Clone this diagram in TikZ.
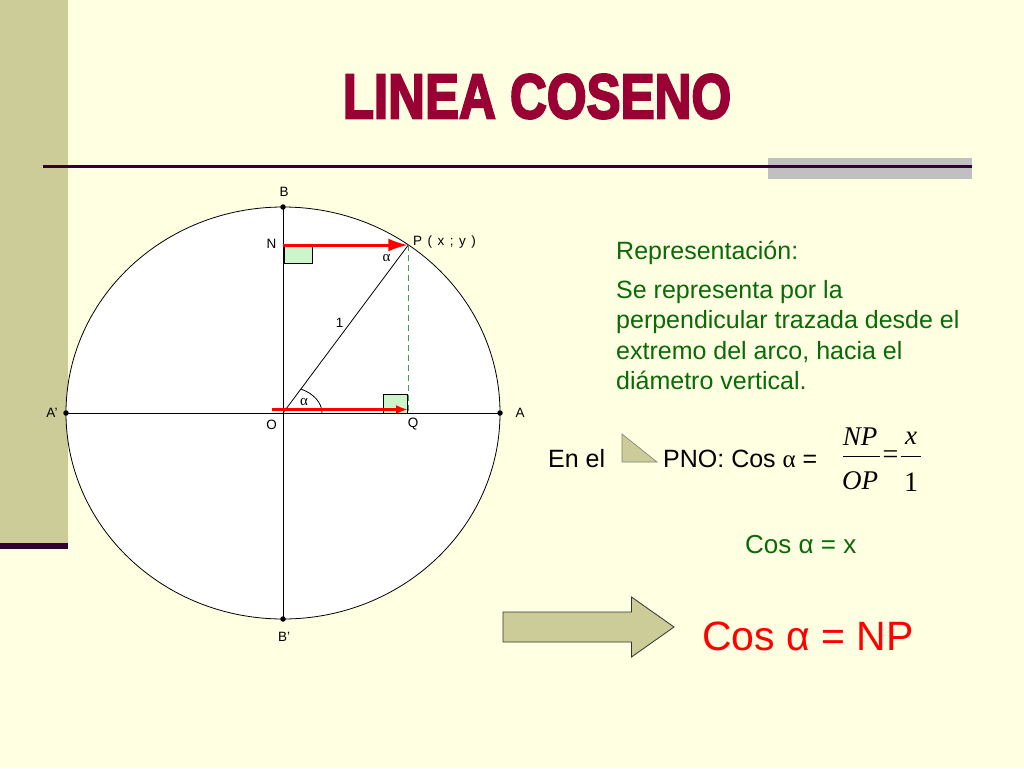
\documentclass[tikz,border=0pt]{standalone}
\usepackage{fontspec}
\setmainfont{Liberation Sans}
\newfontfamily\seriffont{Liberation Serif}
\newfontfamily\titlefont{Liberation Sans}[FakeBold=3.5]
\usetikzlibrary{arrows.meta}
\definecolor{bg}{HTML}{FFFFE1}
\definecolor{olivebar}{HTML}{CCCC99}
\definecolor{darkpurple}{HTML}{330033}
\definecolor{rulegray}{HTML}{C0C0C0}
\definecolor{titlered}{HTML}{990033}
\definecolor{txtgreen}{HTML}{0A6A0A}
\definecolor{sqgreen}{HTML}{CCF5CC}
\definecolor{dashgreen}{HTML}{3C9A5A}
\definecolor{arrowedge}{HTML}{333333}
\tikzset{
  lbl/.style={font=\fontsize{13.5}{13.5}\selectfont, inner sep=0pt},
  greek/.style={font=\seriffont\fontsize{15}{15}\selectfont, inner sep=0pt},
  gtext/.style={font=\fontsize{25}{30}\selectfont, text=txtgreen, inner sep=0pt, anchor=base west},
  btext/.style={font=\fontsize{25}{30}\selectfont, inner sep=0pt, anchor=base west},
  frac/.style={font=\seriffont\itshape\fontsize{27}{27}\selectfont, inner sep=0pt},
  fracup/.style={font=\seriffont\fontsize{28}{28}\selectfont, inner sep=0pt},
  dot/.style={circle, fill=black, inner sep=0pt, minimum size=5.5pt},
  rangle/.style={draw=black, fill=sqgreen, line width=0.7pt},
  redarrow/.style={draw=red, line width=3pt},
}
\begin{document}
\begin{tikzpicture}[x=1pt,y=-1pt]
\useasboundingbox (0,0) rectangle (1024,768);
\fill[bg] (0,0) rectangle (1024,768);
% left bar
\fill[olivebar] (0,0) rectangle (68,543);
\fill[darkpurple] (0,543) rectangle (68,549);
% title rule
\fill[rulegray] (768,158) rectangle (972,179);
\draw[darkpurple, line width=2.6pt] (43,166.5) -- (972,166.5);
% title
\node[font=\titlefont\bfseries\fontsize{63}{63}\selectfont, text=titlered, xscale=0.81, inner sep=0pt] (title) at (537,96.5) {LINEA COSENO};

% circle geometry
\coordinate (O) at (283,413);
\coordinate (A) at (500,413);
\coordinate (Ap) at (66,413);
\coordinate (B) at (283,207);
\coordinate (Bp) at (283,619);
\coordinate (P) at (408.3,245);
\coordinate (N) at (283,245);
\coordinate (Q) at (408.3,413);
\coordinate (Os) at (272,409.5);
\coordinate (Qe) at (408,409.5);

\draw[fill=white, line width=0.8pt] (O) ellipse [x radius=217pt, y radius=206pt];
\draw[line width=0.8pt] (Ap) -- (A);
\draw[line width=0.8pt] (B) -- (Bp);
% right-angle marks
\draw[rangle] (284,246) rectangle (312,263);
\draw[rangle] (383,394) rectangle (407,413);
% radius
\draw[line width=0.8pt] (O) -- (P);
% angle arc
\draw[line width=0.8pt] ([xshift=39pt]O) arc [start angle=0, end angle=62.5, x radius=39pt, y radius=27pt];
% dashed projection
\draw[dashgreen, line width=1.3pt, dash pattern=on 6pt off 4pt] (P) -- (Q);
% red arrows
\draw[redarrow, -{Latex[length=20pt,width=13pt]}] (N) -- (P);
\draw[redarrow, line width=2.6pt, -{Latex[length=12pt,width=9pt]}] (Os) -- (Qe);
% dots
\node[dot] (dB) at (B) {};
\node[dot] (dBp) at (Bp) {};
\node[dot] (dA) at (A) {};
\node[dot] (dAp) at (Ap) {};

% small labels
\node[lbl] (lB) at (284,191.5) {B};
\node[lbl] (lN) at (271.5,243.5) {N};
\node[lbl, anchor=west] (lP) at (413,242.5) {P\hspace{5.5pt}(\hspace{5.5pt}x\hspace{5.5pt};\hspace{5.5pt}y\hspace{5.5pt})};
\node[greek] (a1) at (386.5,258) {α};
\node[lbl] (l1) at (339.5,322.5) {1};
\node[greek] (a2) at (304,402) {α};
\node[lbl] (lAp) at (52,413) {A’};
\node[lbl] (lA) at (520,413) {A};
\node[lbl] (lO) at (271.5,424.5) {O};
\node[lbl] (lQ) at (413,424.5) {Q};
\node[lbl] (lBp) at (284,637) {B’};

% explanation
\node[gtext] (rep) at (616,259) {Representación:};
\node[gtext] (p1) at (616,298) {Se representa por la};
\node[gtext] (p2) at (616,328.7) {perpendicular trazada desde el};
\node[gtext] (p3) at (616,359.3) {extremo del arco, hacia el};
\node[gtext] (p4) at (616,389.7) {diámetro vertical.};

% formula line
\node[btext] (enel) at (548,467) {En el};
\draw[fill=olivebar, draw=gray, line width=0.6pt] (622,434) -- (622,462) -- (657,462) -- cycle;
\node[btext] (pno) at (663,467) {PNO: Cos {\seriffont α} =};
\node[frac] (num1) at (860,437) {NP};
\draw[line width=0.9pt] (843,456) -- (880,456);
\node[frac] (den1) at (860,481) {OP};
\node[fracup] (eq) at (890.5,457) {=};
\node[frac] (num2) at (911,438) {x};
\draw[line width=0.9pt] (901,456) -- (921,456);
\node[fracup] (den2) at (911,482) {1};

\node[font=\fontsize{26}{26}\selectfont, text=txtgreen, inner sep=0pt, anchor=base west] (res1) at (745,553) {Cos α = x};

% block arrow
\draw[fill=olivebar, draw=arrowedge, line width=0.8pt] (503,612) -- (631.5,612) -- (631.5,597) -- (674,627) -- (631.5,657) -- (631.5,642) -- (503,642) -- cycle;
\node[font=\fontsize{41}{41}\selectfont, text=red, inner sep=0pt, anchor=base west] (res2) at (702,650) {Cos α = NP};
\end{tikzpicture}
\end{document}
